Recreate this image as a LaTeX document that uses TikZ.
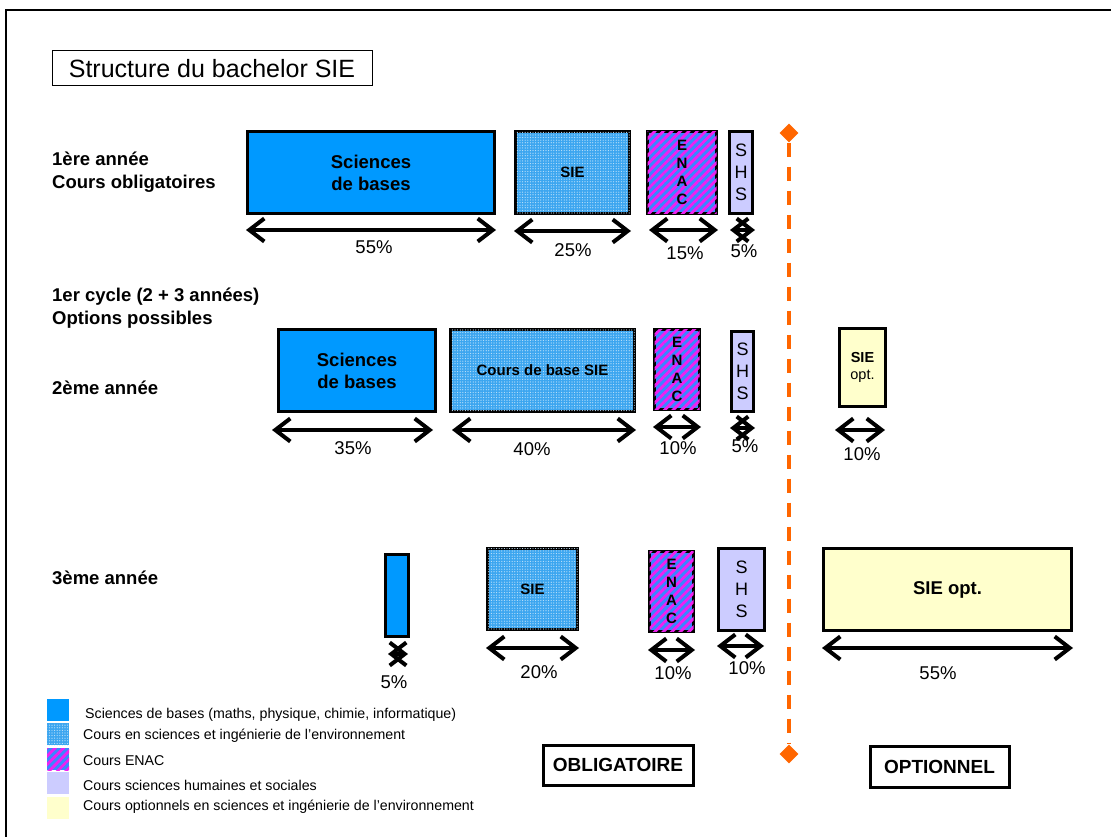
\documentclass[tikz,border=0pt]{standalone}
\usepackage{fontspec}
\setmainfont{Liberation Sans}
\usetikzlibrary{arrows.meta,patterns.meta,shapes.geometric}
\definecolor{sbblue}{HTML}{0099FF}
\definecolor{dotblue}{HTML}{3CA6F0}
\definecolor{enacblue}{HTML}{3A86FF}
\definecolor{enacmag}{HTML}{F020F0}
\definecolor{shsviolet}{HTML}{CCCCFF}
\definecolor{optyellow}{HTML}{FFFFCC}
\definecolor{sepor}{HTML}{FF6600}
\tikzset{
  box/.style={draw=black, line width=3pt, inner sep=0pt, anchor=north west, align=center},
  sbfill/.style={fill=sbblue},
  siefill/.style={fill=dotblue, postaction={pattern={Dots[radius=0.6pt,distance=2.6pt]}, pattern color=white!70!dotblue}},
  enacfill/.style={fill=enacblue, postaction={pattern={Lines[angle=45,distance=6pt,line width=2.8pt]}, pattern color=enacmag}},
  shsfill/.style={fill=shsviolet},
  optfill/.style={fill=optyellow},
  bigtxt/.style={font=\fontsize{18.5}{22}\selectfont\bfseries},
  midtxt/.style={font=\fontsize{15}{18}\selectfont\bfseries},
  enactxt/.style={font=\fontsize{15}{18}\selectfont\bfseries},
  shstxt/.style={font=\fontsize{18}{22}\selectfont},
  dim/.style={line width=4pt, {Straight Barb[length=15pt,width=23pt]}-{Straight Barb[length=15pt,width=23pt]}},
  pct/.style={font=\fontsize{18.5}{20}\selectfont, inner sep=0pt},
  rowlab/.style={font=\fontsize{18.5}{23}\selectfont\bfseries, anchor=west, align=left, inner sep=0pt},
  legsq/.style={inner sep=0pt, minimum width=22pt, minimum height=22pt, anchor=north west},
  legtxt/.style={font=\fontsize{14.2}{16}\selectfont, anchor=west, inner sep=0pt},
  tagbox/.style={draw=black, line width=3pt, font=\fontsize{19}{22}\selectfont\bfseries, inner sep=0pt},
  sepline/.style={draw=sepor, line width=4pt, dash pattern=on 14pt off 10pt},
  sepmark/.style={diamond, fill=sepor, inner sep=0pt, minimum size=19pt}
}
\begin{document}
\begin{tikzpicture}[x=1pt,y=-1pt]
\useasboundingbox (0,0) rectangle (1111,837);
\fill[white] (0,0) rectangle (1111,837);
% outer frame
\draw[line width=1.3pt] (6,845) -- (6,10) -- (1120,10);

% title
\node[draw=black, line width=1pt, minimum width=320pt, minimum height=35pt, inner sep=0pt,
      font=\fontsize{25}{28}\selectfont] (title) at (212,68.5) {Structure du bachelor SIE};

% row labels
\node[rowlab] (lab1) at (52,172) {1ère année\\Cours obligatoires};
\node[rowlab] (lab2) at (52,308) {1er cycle (2 + 3 années)\\Options possibles};
\node[rowlab] (lab3) at (52,388) {2ème année};
\node[rowlab] (lab4) at (52,578) {3ème année};

% separator
\node[sepmark] (dtop) at (789,133) {};
\node[sepmark] (dbot) at (789,754) {};
\draw[sepline] (dtop.south) -- (dbot.north);

% ---------- row 1
\node[box, sbfill, minimum width=247pt, minimum height=82pt, bigtxt] (sb1) at (246,130) {Sciences\\de bases};
\node[box, siefill, minimum width=114pt, minimum height=82pt, midtxt] (sie1) at (514,130) {SIE};
\node[box, enacfill, minimum width=69pt, minimum height=82pt, enactxt] (enac1) at (646,130) {E\\N\\A\\C};
\node[box, shsfill, minimum width=23pt, minimum height=82pt, shstxt] (shs1) at (728,130) {S\\H\\S};

\draw[dim] (sb1.south west |- 0,230) -- (sb1.south east |- 0,230);
\draw[dim] (sie1.south west |- 0,231) -- (sie1.south east |- 0,231);
\draw[dim] ([xshift=3pt]enac1.south west |- 0,230) -- (enac1.south east |- 0,230);
\draw[dim] ([xshift=2pt]shs1.south west |- 0,230) -- ([xshift=1pt]shs1.south east |- 0,230);
\node[pct] (p11) at (374,247) {55\%};
\node[pct] (p12) at (573,250) {25\%};
\node[pct] (p13) at (685,253) {15\%};
\node[pct] (p14) at (744,251) {5\%};

% ---------- row 2
\node[box, sbfill, minimum width=157pt, minimum height=82pt, bigtxt] (sb2) at (277,328) {Sciences\\de bases};
\node[box, siefill, minimum width=184pt, minimum height=82pt, midtxt] (sie2) at (449,328) {Cours de base SIE};
\node[box, enacfill, minimum width=45pt, minimum height=80pt, enactxt] (enac2) at (653,328) {E\\N\\A\\C};
\node[box, shsfill, minimum width=22pt, minimum height=80pt, shstxt] (shs2) at (730,330) {S\\H\\S};
\node[box, optfill, minimum width=46pt, minimum height=78pt, font=\fontsize{14.5}{17}\selectfont] (opt2) at (838,327) {\textbf{SIE}\\opt.};

\draw[dim] ([xshift=-5pt]sb2.south west |- 0,430) -- ([xshift=-4pt]sb2.south east |- 0,430);
\draw[dim] ([xshift=3pt]sie2.south west |- 0,430) -- (sie2.south east |- 0,430);
\draw[dim] (enac2.south west |- 0,427) -- (enac2.south east |- 0,427);
\draw[dim] (shs2.south west |- 0,428) -- (shs2.south east |- 0,428);
\draw[dim] ([xshift=-3pt]opt2.south west |- 0,430) -- ([xshift=-2pt]opt2.south east |- 0,430);
\node[pct] (p21) at (353,448) {35\%};
\node[pct] (p22) at (532,449) {40\%};
\node[pct] (p23) at (678,448) {10\%};
\node[pct] (p24) at (745,446) {5\%};
\node[pct] (p25) at (862,454) {10\%};

% ---------- row 3
\node[box, sbfill, minimum width=23pt, minimum height=82pt] (sb3) at (384,553) {};
\node[box, siefill, minimum width=90pt, minimum height=81pt, midtxt] (sie3) at (486,547) {SIE};
\node[box, enacfill, minimum width=44pt, minimum height=80pt, enactxt] (enac3) at (648,550) {E\\N\\A\\C};
\node[box, shsfill, minimum width=46pt, minimum height=82pt, shstxt] (shs3) at (717,547) {S\\H\\S};
\node[box, optfill, minimum width=248pt, minimum height=82pt, bigtxt] (opt3) at (822,547) {SIE opt.};

\draw[dim] ([xshift=4pt]sb3.south west |- 0,654) -- ([xshift=-2pt]sb3.south east |- 0,654);
\draw[dim] (sie3.south west |- 0,648) -- (sie3.south east |- 0,648);
\draw[dim] (enac3.south west |- 0,650) -- (enac3.south east |- 0,650);
\draw[dim] (shs3.south west |- 0,646) -- ([xshift=-2pt]shs3.south east |- 0,646);
\draw[dim] (opt3.south west |- 0,648) -- (opt3.south east |- 0,648);
\node[pct] (p31) at (394,682) {5\%};
\node[pct] (p32) at (539,672) {20\%};
\node[pct] (p33) at (673,673) {10\%};
\node[pct] (p34) at (747,668) {10\%};
\node[pct] (p35) at (938,673) {55\%};

% ---------- legend
\node[legsq, sbfill] (leg1) at (47,699) {};
\node[legsq, siefill] (leg2) at (47,723) {};
\node[legsq, enacfill] (leg3) at (47,748) {};
\node[legsq, shsfill] (leg4) at (47,772) {};
\node[legsq, optfill] (leg5) at (47,797) {};
\node[legtxt] (leg1t) at (85,715) {Sciences de bases (maths, physique, chimie, informatique)};
\node[legtxt] (leg2t) at (83,736) {Cours en sciences et ingénierie de l’environnement};
\node[legtxt] (leg3t) at (83,761) {Cours ENAC};
\node[legtxt] (leg4t) at (83,785) {Cours sciences humaines et sociales};
\node[legtxt] (leg5t) at (83,807) {Cours optionnels en sciences et ingénierie de l’environnement};

% ---------- tags
\node[tagbox, minimum width=150pt, minimum height=40pt] (oblig) at (618,765) {OBLIGATOIRE};
\node[tagbox, minimum width=139pt, minimum height=41pt] (optio) at (939.5,766.5) {OPTIONNEL};
\end{tikzpicture}
\end{document}
